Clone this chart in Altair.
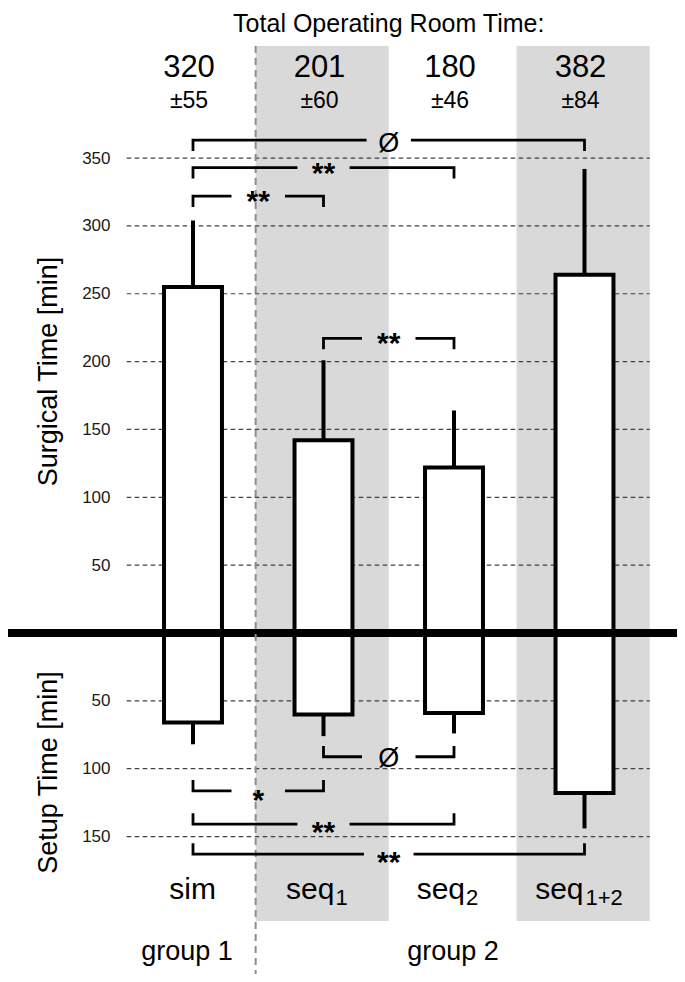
import altair as alt
import pandas as pd

# ---------------- data ----------------
categories = ["sim", "seq1", "seq2", "seq1+2"]
cat_main = ["sim", "seq", "seq", "seq"]
cat_sub = ["", "1", "2", "1+2"]
surgical_mean = [255, 142, 122, 264]
surgical_sd = [49, 59, 42, 78]
setup_mean = [66, 60, 59, 118]
setup_sd = [16, 16, 15, 26]
total_mean = [320, 201, 180, 382]
total_sd = [55, 60, 46, 84]
group_names = ["group 1", "group 2"]
group_first = [0, 1]
group_last = [0, 3]
surgical_ticks = [50, 100, 150, 200, 250, 300, 350]
setup_ticks = [50, 100, 150]
br_from = [0, 0, 0, 1, 1, 0, 0, 0]
br_to = [3, 2, 1, 2, 2, 1, 2, 3]
br_label = ["Ø", "**", "**", "**", "Ø", "*", "**", "**"]
br_part = ["surgical"] * 4 + ["setup"] * 4
shaded = [1, 3]
title_text = "Total Operating Room Time:"
axis_titles = ["Surgical Time [min]", "Setup Time [min]"]

# ---------------- layout ----------------
W, H = 669, 966
XDOM = [-1.4176, 3.7088]
YDOM = [-251.3, 460.6]
br_level = [363.3, 342.9, 322.0, 217.2, -91.2, -116.4, -140.8, -162.9]
br_gap = [0.17, 0.2, 0.205, 0.205, 0.205, 0.205, 0.2, 0.19]
br_dy = [4, 6, 6, 6, 2, 10, 9, 9]
TICK = 8
HALF = 0.222
FONT = "Liberation Sans"

n = len(categories)
idx = list(range(n))
gvals = surgical_ticks + [-v for v in setup_ticks]

xs = alt.Scale(domain=XDOM, range=[0, W], nice=False, zero=False)
ys = alt.Scale(domain=YDOM, range=[H, 0], nice=False, zero=False)
yaxis = alt.Axis(values=gvals, labelExpr="abs(datum.value)", grid=False,
                 domain=False, ticks=False, labelPadding=0, offset=-102,
                 labelFont=FONT, labelFontSize=17, labelColor="#1a1a1a",
                 title=None)


def X(f):
    return alt.X(f, type="quantitative", scale=xs, axis=None)


def Y(f):
    return alt.Y(f, type="quantitative", scale=ys, axis=yaxis)


# shaded bands
bands = pd.DataFrame({"x": [s - 0.52 for s in shaded], "x2": [s + 0.5 for s in shaded],
                      "y": [432.6] * len(shaded), "y2": [-212.2] * len(shaded)})
band_layer = alt.Chart(bands).mark_rect(color="#d9d9d9").encode(
    x=X("x"), x2="x2", y=Y("y"), y2="y2")

# gridlines
grid = pd.DataFrame({"v": gvals, "x": [-0.508] * len(gvals), "x2": [3.5] * len(gvals)})
grid_layer = alt.Chart(grid).mark_rule(color="#404040", strokeWidth=1.2,
                                       strokeDash=[4.5, 3.5]).encode(
    x=X("x"), x2="x2", y=Y("v"))

# bars
bars = pd.DataFrame({
    "x": [i - HALF for i in idx] * 2,
    "x2": [i + HALF for i in idx] * 2,
    "y": [0] * n * 2,
    "y2": surgical_mean + [-v for v in setup_mean],
})
bar_layer = alt.Chart(bars).mark_rect(fill="white", stroke="black", strokeWidth=4).encode(
    x=X("x"), x2="x2", y=Y("y"), y2="y2")

# error bars
err = pd.DataFrame({
    "x": idx * 2,
    "y": surgical_mean + [-v for v in setup_mean],
    "y2": [m + s for m, s in zip(surgical_mean, surgical_sd)]
          + [-(m + s) for m, s in zip(setup_mean, setup_sd)],
})
err_layer = alt.Chart(err).mark_rule(color="black", strokeWidth=4).encode(
    x=X("x"), y=Y("y"), y2="y2")

# zero line
zero = pd.DataFrame({"x": [XDOM[0]], "x2": [XDOM[1]], "y": [0]})
zero_layer = alt.Chart(zero).mark_rule(color="black", strokeWidth=8).encode(
    x=X("x"), x2="x2", y=Y("y"))

# separator
sep = pd.DataFrame({"x": [0.48], "y": [432.6], "y2": [YDOM[0]]})
sep_layer = alt.Chart(sep).mark_rule(color="#8c8c8c", strokeWidth=2,
                                     strokeDash=[7, 5]).encode(
    x=X("x"), y=Y("y"), y2="y2")

# brackets
rows = []
labs = []
for k in range(len(br_from)):
    a, b = br_from[k], br_to[k]
    lev = br_level[k]
    t = lev - TICK if br_part[k] == "surgical" else lev + TICK
    mid = (a + b) / 2
    g = br_gap[k]
    for o, (px, py) in enumerate([(a, t), (a, lev), (mid - g, lev)]):
        rows.append({"seg": f"{k}L", "o": o, "x": px, "y": py})
    for o, (px, py) in enumerate([(mid + g, lev), (b, lev), (b, t)]):
        rows.append({"seg": f"{k}R", "o": o, "x": px, "y": py})
    labs.append({"x": mid, "y": lev, "t": br_label[k], "dy": br_dy[k]})
brk = pd.DataFrame(rows)
brk_layer = alt.Chart(brk).mark_line(color="black", strokeWidth=2.8,
                                     strokeJoin="miter", strokeCap="butt").encode(
    x=X("x"), y=Y("y"), detail="seg:N", order="o:Q")

lab_layers = []
for l in labs:
    star = "*" in l["t"]
    lab_layers.append(alt.Chart(pd.DataFrame([l])).mark_text(
        font=FONT, fontSize=30 if star else 27, fontWeight="bold" if star else "normal",
        dy=l["dy"], baseline="middle", color="black").encode(
        x=X("x"), y=Y("y"), text="t:N"))

# header numbers
hdr = pd.DataFrame({"x": idx, "m": [str(v) for v in total_mean],
                    "s": ["±" + str(v) for v in total_sd],
                    "y1": [409.5] * n, "y2": [386.9] * n})
hdr1 = alt.Chart(hdr).mark_text(font=FONT, fontSize=31, baseline="alphabetic",
                                dx=-4, color="black").encode(x=X("x"), y=Y("y1"), text="m:N")
hdr2 = alt.Chart(hdr).mark_text(font=FONT, fontSize=23, baseline="alphabetic",
                                dx=-4, color="black").encode(x=X("x"), y=Y("y2"), text="s:N")

title_df = pd.DataFrame({"x": [1.5], "y": [442.9], "t": [title_text]})
title_layer = alt.Chart(title_df).mark_text(font=FONT, fontSize=25, baseline="alphabetic",
                                            color="black").encode(
    x=X("x"), y=Y("y"), text="t:N")

# category labels
main_dx = [23, 11, 11, -1]
sub_dx = [0, 12, 12, 1]
cat_layers = []
for i in idx:
    r = {"x": i, "y": -196.0, "t": cat_main[i]}
    cat_layers.append(alt.Chart(pd.DataFrame([r])).mark_text(
        font=FONT, fontSize=30, baseline="alphabetic", align="right", dx=main_dx[i],
        color="black").encode(x=X("x"), y=Y("y"), text="t:N"))
    if cat_sub[i]:
        r2 = {"x": i, "y": -200.4, "t": cat_sub[i]}
        cat_layers.append(alt.Chart(pd.DataFrame([r2])).mark_text(
            font=FONT, fontSize=22, baseline="alphabetic", align="left", dx=sub_dx[i],
            color="black").encode(x=X("x"), y=Y("y"), text="t:N"))

grp_dx = [-6, -1]
grp_layers = []
for gi in range(len(group_names)):
    r = {"x": (group_first[gi] + group_last[gi]) / 2, "y": -241.0, "t": group_names[gi]}
    grp_layers.append(alt.Chart(pd.DataFrame([r])).mark_text(
        font=FONT, fontSize=27, baseline="alphabetic", dx=grp_dx[gi],
        color="black").encode(x=X("x"), y=Y("y"), text="t:N"))

axt = pd.DataFrame({"x": [-1.1, -1.1], "y": [192.7, -102.8], "t": axis_titles})
axt_layer = alt.Chart(axt).mark_text(font=FONT, fontSize=27, angle=270,
                                     baseline="middle", color="black").encode(
    x=X("x"), y=Y("y"), text="t:N")

chart = alt.layer(
    band_layer, grid_layer, bar_layer, err_layer, zero_layer, sep_layer, brk_layer,
    *lab_layers, hdr1, hdr2, title_layer, *cat_layers, *grp_layers, axt_layer
).properties(
    width=W, height=H, autosize=alt.AutoSizeParams(type="none"), padding=0
).configure_view(stroke=None)

chart.save("out.html", embed_options={"renderer": "svg", "actions": False})
